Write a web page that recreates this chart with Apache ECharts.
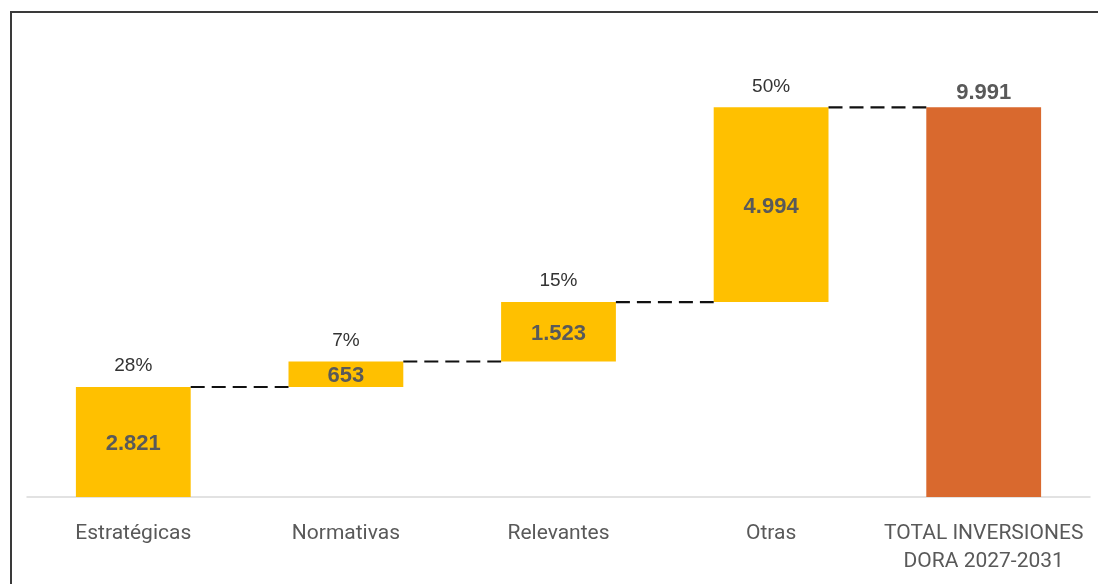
<!DOCTYPE html>
<html>
<head>
<meta charset="utf-8">
<script src="https://cdn.jsdelivr.net/npm/echarts@6/dist/echarts.min.js"></script>
<style>
  html, body { margin: 0; padding: 0; background: #fff; }
  #chart { width: 1098px; height: 584px; }
</style>
</head>
<body>
<div id="chart"></div>
<script>
const categories = ['Estratégicas', 'Normativas', 'Relevantes', 'Otras', 'TOTAL INVERSIONES\nDORA 2027-2031'];
const values = [2821, 653, 1523, 4994, 9991];
const percentLabels = ['28%', '7%', '15%', '50%', ''];
const totalIndex = 4;

// base invisible de la cascada y altura acumulada de cada barra
const base = [];
const tops = [];
let acc = 0;
values.forEach((v, i) => {
    if (i === totalIndex) {
        base.push(0);
        tops.push(v);
    } else {
        base.push(acc);
        acc += v;
        tops.push(acc);
    }
});

const fmt = v => String(v).replace(/\B(?=(\d{3})+(?!\d))/g, '.');
const BAR_RATIO = 0.54;

const chart = echarts.init(document.getElementById('chart'));

const option = {
    animation: false,
    grid: { left: 27, right: 8, top: 107, bottom: 87 },
    graphic: [{
        type: 'rect',
        shape: { x: 11, y: 12, width: 1200, height: 700 },
        style: { fill: 'none', stroke: '#3a3a3a', lineWidth: 2 },
        silent: true
    }],
    xAxis: {
        type: 'category',
        data: categories,
        axisTick: { show: false },
        axisLine: { lineStyle: { color: '#d9d9d9', width: 1.5 } },
        axisLabel: {
            interval: 0,
            margin: 23,
            color: '#595959',
            fontFamily: 'Roboto',
            fontSize: 21,
            lineHeight: 28
        }
    },
    yAxis: { type: 'value', min: 0, max: 10000, show: false },
    series: [
        {
            name: 'base',
            type: 'bar',
            stack: 'w',
            barWidth: (BAR_RATIO * 100) + '%',
            itemStyle: { color: 'transparent' },
            silent: true,
            data: base
        },
        {
            name: 'valor',
            type: 'bar',
            stack: 'w',
            barWidth: (BAR_RATIO * 100) + '%',
            data: values.map((v, i) => ({
                value: v,
                itemStyle: { color: i === totalIndex ? '#D9692E' : '#FFC000' },
                label: i === totalIndex
                    ? { position: 'top', distance: 3 }
                    : { position: 'inside', offset: [0, 2] }
            })),
            label: {
                show: true,
                formatter: p => fmt(p.value),
                color: '#595959',
                fontFamily: 'Liberation Sans',
                fontWeight: 'bold',
                fontSize: 22
            }
        },
        {
            name: 'conectores',
            type: 'custom',
            silent: true,
            z: 5,
            data: tops.map((t, i) => [i, t]),
            renderItem: (params, api) => {
                const i = api.value(0);
                const top = api.value(1);
                const p = api.coord([i, top]);
                const half = api.size([1, 0])[0] * BAR_RATIO / 2;
                const children = [];
                if (percentLabels[i]) {
                    children.push({
                        type: 'text',
                        style: {
                            text: percentLabels[i],
                            x: p[0],
                            y: p[1] - 21,
                            align: 'center',
                            verticalAlign: 'middle',
                            fontFamily: 'Liberation Sans',
                            fontSize: 19,
                            fill: '#333333'
                        }
                    });
                }
                if (i < categories.length - 1) {
                    const q = api.coord([i + 1, top]);
                    children.push({
                        type: 'line',
                        shape: { x1: p[0] + half, y1: p[1], x2: q[0] - half, y2: p[1] },
                        style: { stroke: '#111111', lineWidth: 2.2, lineDash: [14, 7] }
                    });
                }
                return { type: 'group', children: children };
            }
        }
    ]
};

chart.setOption(option);
</script>
</body>
</html>
